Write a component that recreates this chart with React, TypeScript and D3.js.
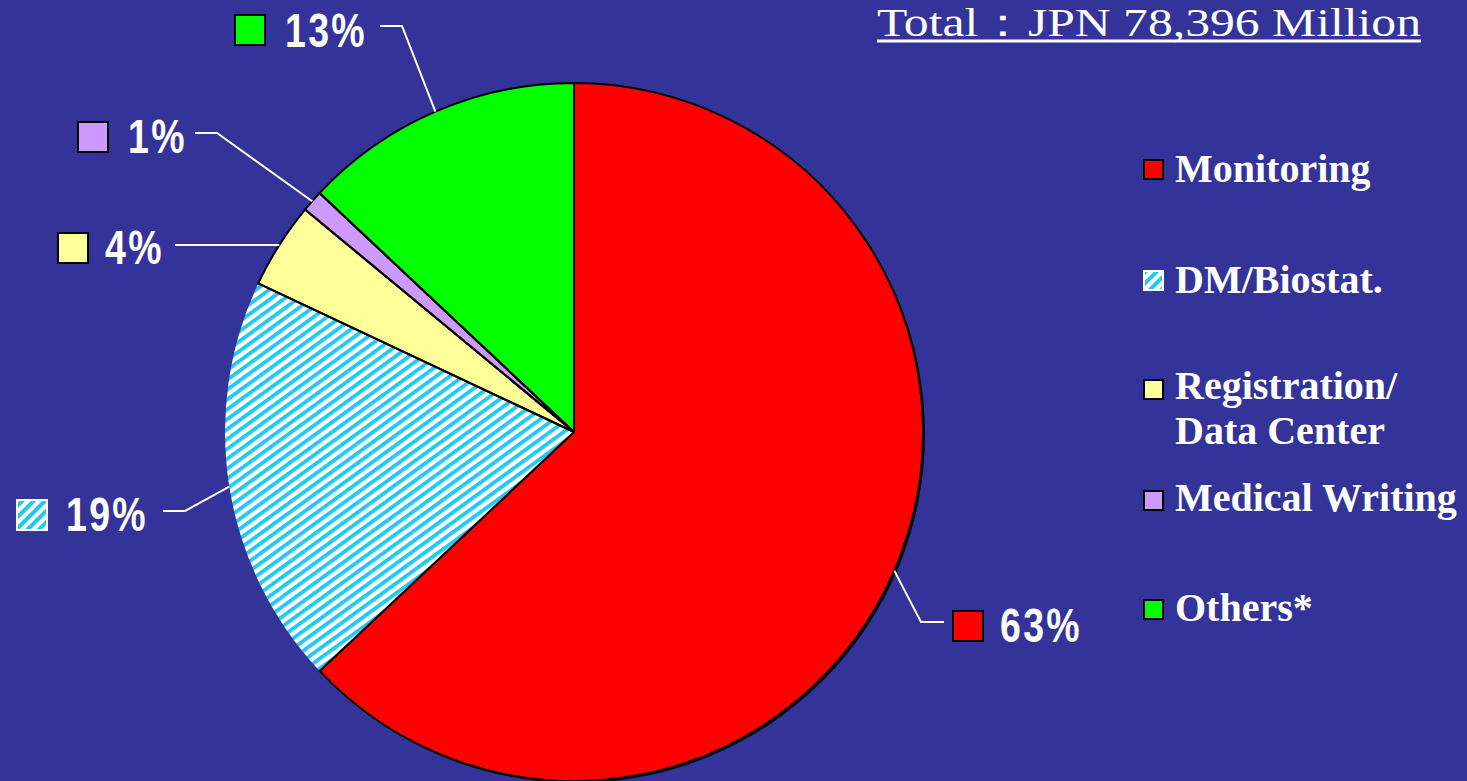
import React, { useEffect } from "react";
import * as d3 from "d3";

const categories = ["Monitoring", "DM/Biostat.", "Registration/\nData Center", "Medical Writing", "Others*"];
const shares = [63, 19, 4, 1, 13];
const percentLabels = ["63%", "19%", "4%", "1%", "13%"];
const fills = ["#FF0000", "url(#hatch)", "#FFFF99", "#CC99FF", "#00FF00"];
const titleText = "Total：JPN 78,396 Million";

const W = 1467;
const H = 781;
const BG = "#333399";

// label placement (layout only)
const labelLayout = [
  { boxX: 953, boxY: 611, textX: 1000, base: 642, elbowX: 921, elbowY: 622, endX: 944 },
  { boxX: 17, boxY: 500, textX: 66, base: 531, elbowX: 185, elbowY: 511, endX: 163 },
  { boxX: 58, boxY: 233, textX: 105, base: 264, elbowX: 197, elbowY: 245, endX: 175 },
  { boxX: 78, boxY: 122, textX: 128, base: 153, elbowX: 217, elbowY: 133, endX: 195 },
  { boxX: 235, boxY: 15, textX: 285, base: 47, elbowX: 402, elbowY: 26, endX: 380 },
];
const legendRows = [
  { y: 160, base: 182 },
  { y: 271, base: 293 },
  { y: 380, base: 399 },
  { y: 491, base: 511 },
  { y: 600, base: 621 },
];

export default function App() {
  useEffect(() => {
    document.body.style.margin = "0";
    document.body.style.background = BG;
  }, []);

  const cx = 574;
  const cy = 432;
  const r = 349;

  const pie = d3
    .pie<number>()
    .sort(null)
    .value((d) => d)
    .startAngle(0)
    .endAngle(2 * Math.PI);
  const arcs = pie(shares);
  const arcGen = d3.arc<d3.PieArcDatum<number>>().innerRadius(0).outerRadius(r);

  const pctFont = "'Liberation Sans', Arial, sans-serif";
  const serif = "'Liberation Serif', 'Times New Roman', serif";

  return (
    <svg width={W} height={H} style={{ display: "block", background: BG }}>
      <defs>
        <pattern id="hatch" patternUnits="userSpaceOnUse" width={8} height={20} patternTransform="rotate(54)">
          <rect x={0} y={0} width={8} height={20} fill="#FFFFFF" />
          <rect x={0} y={0} width={3.8} height={20} fill="#1FC8F5" />
        </pattern>
        <pattern id="hatchSmall" patternUnits="userSpaceOnUse" width={8} height={20} patternTransform="rotate(45)">
          <rect x={0} y={0} width={8} height={20} fill="#FFFFFF" />
          <rect x={0} y={0} width={4} height={20} fill="#1FC8F5" />
        </pattern>
      </defs>
      <rect x={0} y={0} width={W} height={H} fill={BG} />

      {/* pie shadow */}
      <g transform={`translate(${cx + 2},${cy + 2})`}>
        <circle r={r} fill="#000" opacity={0.85} />
      </g>
      <g transform={`translate(${cx},${cy})`}>
        {arcs.map((a, i) => (
          <path
            key={i}
            d={arcGen(a) || ""}
            fill={fills[i]}
            stroke={i === 1 ? "none" : "#000"}
            strokeWidth={2}
            strokeLinejoin="round"
          />
        ))}
        {arcs.map((a, i) => (
          <line
            key={"s" + i}
            x1={0}
            y1={0}
            x2={r * Math.sin(a.startAngle)}
            y2={-r * Math.cos(a.startAngle)}
            stroke="#000"
            strokeWidth={2}
          />
        ))}
      </g>

      {/* leader lines and percentage labels */}
      {arcs.map((a, i) => {
        const L = labelLayout[i];
        const mid = (a.startAngle + a.endAngle) / 2;
        const px = cx + r * Math.sin(mid);
        const py = cy - r * Math.cos(mid);
        return (
          <g key={"l" + i}>
            <polyline
              points={`${px},${py} ${L.elbowX},${L.elbowY} ${L.endX},${L.elbowY}`}
              fill="none"
              stroke="#FFFFFF"
              strokeWidth={2}
            />
            <rect
              x={L.boxX}
              y={L.boxY}
              width={30}
              height={30}
              fill={i === 1 ? "url(#hatchSmall)" : fills[i]}
              stroke={i === 1 ? "#FFFFFF" : "#000"}
              strokeWidth={2}
            />
            <g transform={`translate(${L.textX},${L.base}) scale(0.78,1)`}>
              <text
                x={0}
                y={0}
                fill="#FFFFFF"
                fontFamily={pctFont}
                fontSize={48}
                fontWeight="bold"
                letterSpacing={3}
              >
                {percentLabels[i]}
              </text>
            </g>
          </g>
        );
      })}

      {/* title */}
      <text x={877} y={36} fill="#FFFFFF" fontFamily={serif} fontSize={40} textLength={544} lengthAdjust="spacingAndGlyphs">
        {titleText}
      </text>
      <line x1={877} x2={1421} y1={41} y2={41} stroke="#FFFFFF" strokeWidth={3} />

      {/* legend */}
      {categories.map((c, i) => {
        const row = legendRows[i];
        const lines = c.split("\n");
        return (
          <g key={"lg" + i}>
            <rect
              x={1144}
              y={row.y}
              width={19}
              height={19}
              fill={i === 1 ? "url(#hatchSmall)" : fills[i]}
              stroke={i === 1 ? "#FFFFFF" : "#000"}
              strokeWidth={2}
            />
            {lines.map((ln, j) => (
              <text
                key={j}
                x={1175}
                y={row.base + j * 45}
                fill="#FFFFFF"
                fontFamily={serif}
                fontSize={40}
                fontWeight="bold"
              >
                {ln}
              </text>
            ))}
          </g>
        );
      })}
    </svg>
  );
}
